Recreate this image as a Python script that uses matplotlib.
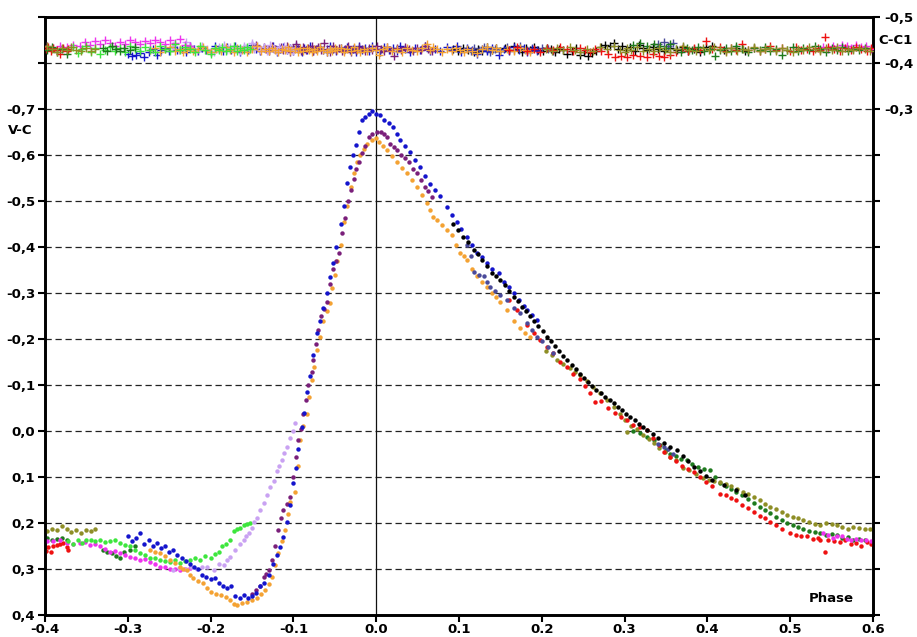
import numpy as np
import matplotlib
matplotlib.use("Agg")
import matplotlib.pyplot as plt

plt.rcParams['font.family'] = ['DejaVu Sans']

# ---------------- data: phase, V-C, C-C1 per observing run ----------------
blue_phase = [-0.300,-0.295,-0.290,-0.285,-0.280,-0.275,-0.270,-0.265,-0.260,-0.255,
              -0.250,-0.245,-0.240,-0.235,-0.230,-0.225,-0.220,-0.215,-0.210,-0.205,
              -0.200,-0.195,-0.190,-0.185,-0.180,-0.175,-0.170,-0.165,-0.160,-0.155,
              -0.150,-0.145,-0.140,-0.135,-0.130,-0.125,-0.120,-0.116,-0.112,-0.108,
              -0.104,-0.100,-0.097,-0.094,-0.090,-0.087,-0.083,-0.080,-0.076,-0.072,
              -0.068,-0.064,-0.060,-0.056,-0.052,-0.048,-0.043,-0.039,-0.035,-0.032,
              -0.028,-0.025,-0.021,-0.017,-0.013,-0.009,-0.005,0.000,0.005,0.010,
              0.015,0.020,0.025,0.029,0.035,0.041,0.047,0.053,0.059,0.065,
              0.071,0.077,0.085,0.091,0.097,0.103,0.110,0.116,0.122,0.128,
              0.134,0.140,0.148,0.154,0.160,0.166,0.172,0.178,0.182,0.188,
              0.194]
blue_vc = [0.228,0.240,0.232,0.222,0.245,0.236,0.250,0.244,0.255,0.250,
           0.262,0.258,0.270,0.276,0.282,0.290,0.296,0.300,0.312,0.318,
           0.322,0.320,0.330,0.336,0.342,0.338,0.358,0.362,0.356,0.362,
           0.358,0.352,0.338,0.330,0.312,0.290,0.270,0.252,0.230,0.197,
           0.160,0.114,0.080,0.040,-0.009,-0.040,-0.085,-0.120,-0.165,-0.213,
           -0.240,-0.267,-0.300,-0.335,-0.365,-0.400,-0.451,-0.490,-0.540,-0.575,
           -0.600,-0.622,-0.650,-0.676,-0.682,-0.690,-0.695,-0.690,-0.688,-0.676,
           -0.669,-0.660,-0.645,-0.633,-0.620,-0.607,-0.590,-0.575,-0.555,-0.538,
           -0.525,-0.511,-0.488,-0.470,-0.455,-0.440,-0.422,-0.405,-0.386,-0.378,
           -0.365,-0.352,-0.343,-0.325,-0.312,-0.300,-0.285,-0.272,-0.263,-0.252,
           -0.241]
blue_cc = [-0.420,-0.415,-0.418,-0.422,-0.414,-0.425,-0.430,-0.418,-0.428,-0.432,
           -0.426,-0.434,-0.428,-0.431,-0.424,-0.436,-0.430,-0.427,-0.433,-0.429,
           -0.425,-0.438,-0.431,-0.427,-0.434,-0.429,-0.436,-0.423,-0.432,-0.428,
           -0.440,-0.431,-0.426,-0.433,-0.429,-0.437,-0.424,-0.430,-0.435,-0.428,
           -0.432,-0.426,-0.438,-0.430,-0.424,-0.433,-0.429,-0.436,-0.427,-0.431,
           -0.434,-0.428,-0.425,-0.437,-0.430,-0.426,-0.433,-0.429,-0.435,-0.428,
           -0.431,-0.424,-0.436,-0.429,-0.433,-0.427,-0.438,-0.430,-0.425,-0.434,
           -0.428,-0.432,-0.426,-0.437,-0.430,-0.424,-0.433,-0.429,-0.436,-0.427,
           -0.431,-0.426,-0.434,-0.429,-0.438,-0.425,-0.432,-0.428,-0.419,-0.430,
           -0.427,-0.433,-0.418,-0.431,-0.426,-0.435,-0.429,-0.432,-0.424,-0.430,
           -0.428]

purple_phase = [-0.150,-0.145,-0.140,-0.136,-0.133,-0.130,-0.126,-0.122,-0.118,-0.115,
                -0.112,-0.108,-0.104,-0.101,-0.097,-0.094,-0.091,-0.088,-0.085,-0.082,
                -0.078,-0.076,-0.073,-0.070,-0.067,-0.063,-0.060,-0.056,-0.052,-0.048,
                -0.045,-0.041,-0.038,-0.034,-0.031,-0.027,-0.024,-0.021,-0.017,-0.013,
                -0.009,-0.005,0.001,0.006,0.010,0.013,0.017,0.021,0.025,0.030,
                0.035,0.040,0.045,0.049,0.054,0.059,0.063,0.067]
purple_vc = [0.355,0.345,0.338,0.317,0.310,0.302,0.280,0.250,0.215,0.190,
             0.172,0.158,0.143,0.100,0.056,0.020,-0.005,-0.038,-0.067,-0.100,
             -0.129,-0.154,-0.190,-0.220,-0.250,-0.265,-0.281,-0.320,-0.352,-0.370,
             -0.386,-0.430,-0.462,-0.500,-0.524,-0.548,-0.570,-0.585,-0.605,-0.620,
             -0.640,-0.645,-0.651,-0.650,-0.645,-0.640,-0.625,-0.618,-0.611,-0.600,
             -0.593,-0.585,-0.570,-0.560,-0.545,-0.531,-0.522,-0.509]
purple_cc = [-0.432,-0.440,-0.428,-0.435,-0.430,-0.426,-0.437,-0.431,-0.428,-0.434,
             -0.429,-0.436,-0.425,-0.433,-0.441,-0.430,-0.427,-0.435,-0.429,-0.432,
             -0.438,-0.426,-0.431,-0.434,-0.428,-0.443,-0.430,-0.425,-0.436,-0.429,
             -0.433,-0.427,-0.430,-0.437,-0.424,-0.432,-0.428,-0.435,-0.430,-0.426,
             -0.433,-0.429,-0.436,-0.431,-0.427,-0.434,-0.429,-0.416,-0.432,-0.428,
             -0.435,-0.430,-0.426,-0.433,-0.429,-0.436,-0.431,-0.427]

orange_phase = [-0.273,-0.267,-0.261,-0.255,-0.249,-0.243,-0.237,-0.233,-0.229,-0.225,
                -0.221,-0.215,-0.209,-0.204,-0.200,-0.194,-0.188,-0.182,-0.176,-0.172,
                -0.168,-0.162,-0.156,-0.150,-0.144,-0.139,-0.134,-0.130,-0.126,-0.122,
                -0.118,-0.114,-0.110,-0.107,-0.104,-0.098,-0.095,-0.092,-0.088,-0.084,
                -0.081,-0.078,-0.075,-0.072,-0.068,-0.064,-0.060,-0.056,-0.053,-0.050,
                -0.047,-0.043,-0.039,-0.035,-0.031,-0.027,-0.023,-0.019,-0.015,-0.011,
                -0.005,0.000,0.003,0.008,0.013,0.019,0.025,0.031,0.037,0.043,
                0.049,0.055,0.061,0.065,0.069,0.074,0.079,0.085,0.091,0.096,
                0.101,0.106,0.110,0.116,0.122,0.128,0.134,0.140,0.145,0.150,
                0.158,0.166,0.174,0.180,0.186]
orange_vc = [0.259,0.262,0.266,0.272,0.280,0.288,0.295,0.300,0.302,0.312,
             0.320,0.326,0.331,0.342,0.351,0.355,0.357,0.360,0.367,0.375,
             0.378,0.374,0.371,0.368,0.362,0.355,0.346,0.332,0.317,0.292,
             0.266,0.240,0.215,0.180,0.154,0.132,0.075,0.020,-0.010,-0.038,
             -0.075,-0.111,-0.140,-0.176,-0.205,-0.240,-0.260,-0.278,-0.310,-0.339,
             -0.370,-0.404,-0.455,-0.490,-0.530,-0.560,-0.585,-0.600,-0.612,-0.625,
             -0.633,-0.636,-0.629,-0.620,-0.611,-0.598,-0.585,-0.572,-0.560,-0.545,
             -0.531,-0.512,-0.495,-0.480,-0.466,-0.458,-0.448,-0.438,-0.426,-0.405,
             -0.386,-0.380,-0.372,-0.352,-0.336,-0.325,-0.314,-0.300,-0.292,-0.280,
             -0.262,-0.240,-0.223,-0.212,-0.205]
orange_cc = [-0.428,-0.432,-0.425,-0.430,-0.434,-0.427,-0.431,-0.424,-0.429,-0.433,
             -0.426,-0.430,-0.435,-0.428,-0.423,-0.431,-0.427,-0.434,-0.429,-0.425,
             -0.432,-0.428,-0.424,-0.430,-0.436,-0.427,-0.431,-0.426,-0.433,-0.429,
             -0.425,-0.431,-0.428,-0.434,-0.426,-0.430,-0.424,-0.432,-0.427,-0.433,
             -0.429,-0.425,-0.431,-0.427,-0.435,-0.428,-0.424,-0.430,-0.426,-0.432,
             -0.428,-0.433,-0.425,-0.430,-0.427,-0.434,-0.429,-0.424,-0.431,-0.426,
             -0.432,-0.428,-0.418,-0.430,-0.435,-0.427,-0.431,-0.425,-0.433,-0.429,
             -0.426,-0.432,-0.441,-0.428,-0.434,-0.430,-0.425,-0.431,-0.427,-0.433,
             -0.429,-0.425,-0.431,-0.427,-0.421,-0.430,-0.434,-0.428,-0.432,-0.426,
             -0.430,-0.427,-0.433,-0.429,-0.425]

lavender_phase = [-0.245,-0.238,-0.230,-0.224,-0.217,-0.210,-0.204,-0.196,-0.190,-0.184,
                  -0.180,-0.176,-0.170,-0.164,-0.160,-0.157,-0.154,-0.150,-0.147,-0.144,
                  -0.140,-0.136,-0.132,-0.128,-0.124,-0.120,-0.117,-0.114,-0.111,-0.108,
                  -0.104,-0.101,-0.098]
lavender_vc = [0.302,0.298,0.300,0.296,0.299,0.295,0.295,0.302,0.290,0.291,
               0.280,0.273,0.258,0.245,0.238,0.228,0.222,0.210,0.198,0.190,
               0.172,0.157,0.140,0.121,0.108,0.088,0.075,0.063,0.048,0.034,
               0.015,0.000,-0.017]
lavender_cc = [-0.436,-0.429,-0.446,-0.432,-0.427,-0.438,-0.431,-0.425,-0.434,-0.440,
               -0.428,-0.435,-0.430,-0.426,-0.437,-0.432,-0.428,-0.443,-0.431,-0.436,
               -0.429,-0.434,-0.427,-0.440,-0.431,-0.426,-0.435,-0.430,-0.438,-0.429,
               -0.433,-0.427,-0.431]

green_phase = [-0.372,-0.366,-0.360,-0.355,-0.350,-0.345,-0.340,-0.334,-0.328,-0.322,
               -0.316,-0.309,-0.303,-0.297,-0.291,-0.285,-0.279,-0.273,-0.267,-0.261,
               -0.255,-0.249,-0.243,-0.237,-0.231,-0.225,-0.219,-0.213,-0.207,-0.200,
               -0.195,-0.190,-0.186,-0.181,-0.176,-0.172,-0.168,-0.164,-0.160,-0.156,
               -0.152]
green_vc = [0.240,0.246,0.238,0.244,0.237,0.236,0.240,0.237,0.242,0.240,
            0.238,0.244,0.248,0.251,0.258,0.266,0.270,0.277,0.276,0.280,
            0.283,0.284,0.280,0.288,0.282,0.280,0.276,0.280,0.272,0.277,
            0.268,0.262,0.251,0.246,0.237,0.218,0.212,0.210,0.204,0.202,
            0.201]
green_cc = [-0.428,-0.434,-0.421,-0.430,-0.436,-0.425,-0.432,-0.419,-0.429,-0.435,
            -0.427,-0.433,-0.424,-0.438,-0.430,-0.426,-0.434,-0.429,-0.423,-0.437,
            -0.431,-0.426,-0.441,-0.428,-0.434,-0.430,-0.425,-0.436,-0.429,-0.420,
            -0.433,-0.428,-0.435,-0.426,-0.431,-0.438,-0.427,-0.432,-0.429,-0.434,
            -0.430]

dkgreen_phase = [-0.398,-0.392,-0.386,-0.380,-0.374,-0.330,-0.325,-0.319,-0.314,-0.309,
                 -0.304,-0.297,-0.291,
                 0.310,0.319,0.327,0.335,0.343,0.350,0.355,0.362,0.368,0.375,
                 0.382,0.389,0.396,0.403,0.409,0.415,0.422,0.429,0.435,0.442,
                 0.449,0.456,0.463,0.469,0.476,0.483,0.490,0.496,0.503,0.510,
                 0.516,0.523,0.530,0.536,0.543,0.550,0.556,0.563,0.570,0.576,
                 0.583,0.590]
dkgreen_vc = [0.232,0.236,0.234,0.233,0.238,0.258,0.262,0.266,0.272,0.277,
              0.262,0.258,0.251,
              0.000,0.005,0.012,0.020,0.030,0.042,0.049,0.054,0.060,0.063,
              0.072,0.078,0.082,0.085,0.100,0.114,0.120,0.126,0.132,0.140,
              0.148,0.157,0.165,0.172,0.179,0.186,0.194,0.201,0.205,0.208,
              0.212,0.218,0.220,0.222,0.226,0.224,0.226,0.232,0.230,0.237,
              0.234,0.238]
dkgreen_cc = [-0.428,-0.434,-0.425,-0.431,-0.420,-0.433,-0.427,-0.436,-0.430,-0.426,
              -0.432,-0.428,-0.435,
              -0.440,-0.444,-0.436,-0.442,-0.438,-0.433,-0.441,-0.430,-0.424,-0.432,
              -0.428,-0.435,-0.426,-0.431,-0.415,-0.429,-0.433,-0.427,-0.436,-0.430,
              -0.425,-0.432,-0.428,-0.434,-0.426,-0.431,-0.418,-0.429,-0.435,-0.427,
              -0.432,-0.428,-0.436,-0.430,-0.425,-0.433,-0.429,-0.434,-0.427,-0.431,
              -0.428,-0.433]

olive_phase = [-0.398,-0.392,-0.386,-0.380,-0.374,-0.368,-0.362,-0.356,-0.350,-0.344,
               -0.340,
               0.205,0.212,0.218,0.226,0.234,0.240,0.246,0.254,0.262,0.270,
               0.279,0.287,0.295,0.300,0.303,0.308,0.315,0.322,0.329,0.335,
               0.342,0.349,0.355,0.362,0.371,0.378,0.386,0.395,0.402,0.408,
               0.415,0.422,0.429,0.436,0.443,0.449,0.456,0.463,0.470,0.476,
               0.483,0.490,0.496,0.503,0.510,0.516,0.523,0.530,0.536,0.543,
               0.550,0.556,0.563,0.570,0.576,0.583,0.590,0.596]
olive_vc = [0.218,0.212,0.216,0.206,0.214,0.220,0.216,0.222,0.215,0.218,
            0.214,
            -0.175,-0.165,-0.154,-0.145,-0.136,-0.128,-0.122,-0.108,-0.096,-0.082,
            -0.067,-0.052,-0.038,-0.025,0.002,-0.010,-0.005,0.008,0.018,0.027,
            0.036,0.046,0.056,0.064,0.081,0.085,0.094,0.103,0.106,0.108,
            0.110,0.115,0.120,0.125,0.132,0.138,0.143,0.150,0.158,0.165,
            0.170,0.177,0.183,0.186,0.190,0.193,0.198,0.202,0.204,0.200,
            0.203,0.204,0.208,0.212,0.208,0.210,0.212,0.214]
olive_cc = [-0.438,-0.430,-0.425,-0.433,-0.428,-0.435,-0.429,-0.426,-0.432,-0.427,
            -0.431,
            -0.430,-0.426,-0.433,-0.428,-0.435,-0.429,-0.424,-0.431,-0.427,-0.434,
            -0.430,-0.436,-0.428,-0.425,-0.432,-0.429,-0.434,-0.427,-0.431,-0.426,
            -0.433,-0.428,-0.424,-0.431,-0.436,-0.429,-0.426,-0.432,-0.428,-0.435,
            -0.430,-0.425,-0.433,-0.427,-0.431,-0.428,-0.434,-0.426,-0.430,-0.432,
            -0.427,-0.433,-0.429,-0.425,-0.431,-0.428,-0.435,-0.430,-0.426,-0.432,
            -0.429,-0.434,-0.427,-0.431,-0.428,-0.433,-0.430,-0.426]

red_phase = [-0.399,-0.396,-0.393,-0.390,-0.386,-0.382,-0.378,-0.374,-0.372,
             0.160,0.170,0.182,0.190,0.198,0.206,0.214,0.222,0.230,0.238,
             0.246,0.252,0.258,0.264,0.272,0.280,0.288,0.296,0.303,0.310,
             0.318,0.327,0.334,0.341,0.348,0.355,0.362,0.369,0.377,0.384,
             0.391,0.398,0.405,0.415,0.422,0.428,0.435,0.442,0.449,0.456,
             0.463,0.469,0.476,0.483,0.490,0.500,0.507,0.513,0.520,0.527,
             0.533,0.536,0.542,0.546,0.553,0.560,0.566,0.573,0.580,0.586,
             0.593,0.598]
red_vc = [0.260,0.252,0.262,0.251,0.248,0.245,0.244,0.252,0.259,
          -0.285,-0.262,-0.230,-0.212,-0.198,-0.183,-0.170,-0.150,-0.140,-0.125,
          -0.112,-0.098,-0.082,-0.062,-0.066,-0.050,-0.040,-0.030,-0.024,-0.013,
          -0.008,-0.002,0.015,0.030,0.045,0.056,0.065,0.075,0.083,0.090,
          0.099,0.110,0.120,0.136,0.140,0.145,0.150,0.160,0.168,0.175,
          0.184,0.190,0.197,0.205,0.212,0.222,0.225,0.228,0.229,0.235,
          0.232,0.236,0.262,0.236,0.240,0.242,0.238,0.245,0.244,0.250,
          0.241,0.246]
red_cc = [-0.430,-0.435,-0.426,-0.432,-0.428,-0.420,-0.433,-0.427,-0.431,
          -0.429,-0.434,-0.427,-0.431,-0.425,-0.432,-0.428,-0.435,-0.430,-0.426,
          -0.433,-0.429,-0.424,-0.431,-0.427,-0.420,-0.414,-0.416,-0.412,-0.418,
          -0.415,-0.413,-0.419,-0.416,-0.414,-0.418,-0.424,-0.430,-0.427,-0.433,
          -0.429,-0.448,-0.430,-0.435,-0.427,-0.432,-0.428,-0.441,-0.429,-0.433,
          -0.427,-0.431,-0.436,-0.428,-0.432,-0.426,-0.434,-0.429,-0.431,-0.427,
          -0.433,-0.429,-0.456,-0.435,-0.430,-0.426,-0.432,-0.428,-0.434,-0.430,
          -0.427,-0.433]

magenta_phase = [-0.398,-0.390,-0.382,-0.374,-0.366,-0.358,-0.352,-0.346,-0.340,-0.334,
                 -0.328,-0.322,-0.316,-0.309,-0.303,-0.297,-0.291,-0.285,-0.279,-0.273,
                 -0.267,-0.261,-0.255,-0.249,-0.243,-0.237,-0.231,-0.225,
                 0.540,0.546,0.552,0.556,0.562,0.568,0.574,0.580,0.586,0.592,
                 0.598]
magenta_vc = [0.240,0.240,0.238,0.244,0.246,0.244,0.242,0.248,0.246,0.251,
              0.256,0.262,0.260,0.266,0.270,0.273,0.276,0.280,0.278,0.284,
              0.290,0.295,0.296,0.299,0.300,0.302,0.300,0.298,
              0.222,0.226,0.232,0.229,0.228,0.234,0.236,0.235,0.238,0.237,
              0.240]
magenta_cc = [-0.436,-0.432,-0.438,-0.434,-0.440,-0.436,-0.445,-0.440,-0.447,-0.442,
              -0.449,-0.444,-0.438,-0.446,-0.442,-0.450,-0.445,-0.441,-0.448,-0.443,
              -0.451,-0.446,-0.442,-0.449,-0.444,-0.452,-0.440,-0.436,
              -0.435,-0.431,-0.438,-0.433,-0.440,-0.436,-0.432,-0.439,-0.434,-0.437,
              -0.430]

black_phase = [0.093,0.099,0.105,0.111,0.118,0.123,0.128,0.134,0.140,0.145,
               0.150,0.155,0.160,0.166,0.171,0.176,0.181,0.186,0.191,0.196,
               0.201,0.206,0.211,0.216,0.221,0.226,0.231,0.236,0.241,0.246,
               0.251,0.256,0.261,0.266,0.271,0.276,0.282,0.287,0.292,0.297,
               0.302,0.307,0.312,0.317,0.322,0.327,0.334,0.340,0.348,0.355,
               0.363,0.370,0.377,0.384,0.391,0.398,0.405,0.420,0.435,0.445]
black_vc = [-0.451,-0.436,-0.422,-0.410,-0.393,-0.384,-0.372,-0.358,-0.343,-0.337,
            -0.328,-0.318,-0.305,-0.292,-0.283,-0.270,-0.260,-0.249,-0.240,-0.228,
            -0.218,-0.205,-0.196,-0.184,-0.173,-0.162,-0.154,-0.144,-0.134,-0.125,
            -0.116,-0.107,-0.098,-0.089,-0.082,-0.075,-0.067,-0.060,-0.052,-0.045,
            -0.038,-0.031,-0.024,-0.016,-0.009,-0.002,0.006,0.015,0.026,0.034,
            0.041,0.055,0.066,0.078,0.088,0.098,0.106,0.118,0.129,0.140]
black_cc = [-0.430,-0.426,-0.433,-0.428,-0.424,-0.431,-0.427,-0.435,-0.429,-0.432,
            -0.426,-0.433,-0.429,-0.436,-0.430,-0.425,-0.432,-0.428,-0.434,-0.429,
            -0.427,-0.433,-0.430,-0.424,-0.431,-0.428,-0.420,-0.427,-0.432,-0.418,
            -0.423,-0.416,-0.421,-0.427,-0.435,-0.440,-0.437,-0.443,-0.431,-0.438,
            -0.429,-0.435,-0.427,-0.440,-0.432,-0.428,-0.434,-0.430,-0.426,-0.433,
            -0.429,-0.435,-0.427,-0.431,-0.425,-0.434,-0.438,-0.429,-0.432,-0.427]

slate_phase = [0.110,0.114,0.118,0.124,0.130,0.134,0.138,0.144,0.150,0.158,
               0.166,0.174,0.182,0.188,0.194,0.200,0.207,0.214,0.340,0.347,
               0.352,0.358]
slate_vc = [-0.404,-0.380,-0.346,-0.340,-0.336,-0.325,-0.314,-0.305,-0.295,-0.285,
            -0.268,-0.256,-0.235,-0.220,-0.205,-0.195,-0.182,-0.169,0.028,0.034,
            0.040,0.050]
slate_cc = [-0.430,-0.426,-0.433,-0.428,-0.435,-0.429,-0.424,-0.431,-0.427,-0.434,
            -0.429,-0.436,-0.428,-0.432,-0.426,-0.433,-0.430,-0.427,-0.441,-0.445,
            -0.438,-0.443]

C_DKGREEN, C_OLIVE, C_RED, C_MAGENTA = '#1E7A1E', '#8E8E26', '#EE1111', '#EE33EE'
C_GREEN, C_LAV, C_ORANGE, C_PURPLE = '#3DE63D', '#C9A2F2', '#F4A233', '#7A1F7A'
C_BLUE, C_SLATE, C_BLACK = '#1414CC', '#4A4A9A', '#000000'

# V-C dots (drawing order)
vc_series = [
    (dkgreen_phase, dkgreen_vc, C_DKGREEN),
    (olive_phase, olive_vc, C_OLIVE),
    (red_phase, red_vc, C_RED),
    (magenta_phase, magenta_vc, C_MAGENTA),
    (green_phase, green_vc, C_GREEN),
    (lavender_phase, lavender_vc, C_LAV),
    (orange_phase, orange_vc, C_ORANGE),
    (purple_phase, purple_vc, C_PURPLE),
    (blue_phase, blue_vc, C_BLUE),
    (slate_phase, slate_vc, C_SLATE),
    (black_phase, black_vc, C_BLACK),
]
# C-C1 crosses (drawing order)
cc_series = [
    (black_phase, black_cc, C_BLACK),
    (slate_phase, slate_cc, C_SLATE),
    (blue_phase, blue_cc, C_BLUE),
    (purple_phase, purple_cc, C_PURPLE),
    (lavender_phase, lavender_cc, C_LAV),
    (orange_phase, orange_cc, C_ORANGE),
    (magenta_phase, magenta_cc, C_MAGENTA),
    (green_phase, green_cc, C_GREEN),
    (red_phase, red_cc, C_RED),
    (dkgreen_phase, dkgreen_cc, C_DKGREEN),
    (olive_phase, olive_cc, C_OLIVE),
]

x_ticks = [-0.4, -0.3, -0.2, -0.1, 0.0, 0.1, 0.2, 0.3, 0.4, 0.5, 0.6]
x_tick_labels = ['-0.4', '-0.3', '-0.2', '-0.1', '0.0', '0.1', '0.2', '0.3', '0.4', '0.5', '0.6']
y_ticks = [-0.9, -0.8, -0.7, -0.6, -0.5, -0.4, -0.3, -0.2, -0.1, 0.0, 0.1, 0.2, 0.3, 0.4]
y_tick_labels = ['', '', '-0,7', '-0,6', '-0,5', '-0,4', '-0,3', '-0,2', '-0,1',
                 '0,0', '0,1', '0,2', '0,3', '0,4']
grid_levels = [-0.8, -0.7, -0.6, -0.5, -0.4, -0.3, -0.2, -0.1, 0.0, 0.1, 0.2, 0.3]
y2_ticks = [-0.5, -0.4, -0.3, -0.2, -0.1, 0.0, 0.1, 0.2, 0.3, 0.4, 0.5, 0.6, 0.7, 0.8]
y2_tick_labels = ['-0,5', '-0,4', '-0,3'] + [''] * 11

# ---------------- figure ----------------
W, H = 917, 637
fig = plt.figure(figsize=(W / 100, H / 100), dpi=100)
ax = fig.add_axes([45 / W, 22 / H, 828 / W, 598 / H])
ax.set_xlim(-0.4, 0.6)
ax.set_ylim(0.4, -0.9)
ax2 = ax.twinx()
ax2.set_ylim(0.8, -0.5)

for lv in grid_levels:
    ax.axhline(lv, color='#222222', lw=0.9, ls=(0, (5, 3)), zorder=1)
ax.axvline(0.0, color='#111111', lw=0.9, zorder=1)

for ph, vc, col in vc_series:
    ax.plot(ph, vc, ls='none', marker='o', ms=3.2, mew=0, color=col, zorder=3)
for ph, cc, col in cc_series:
    ax2.plot(ph, cc, ls='none', marker='+', ms=6, mew=1.0, color=col, zorder=3)

fs = 9.5
ax.set_xticks(x_ticks)
ax.set_xticklabels(x_tick_labels, fontsize=fs, fontweight='bold')
ax.set_yticks(y_ticks)
ax.set_yticklabels(y_tick_labels, fontsize=fs, fontweight='bold')
ax2.set_yticks(y2_ticks)
ax2.set_yticklabels(y2_tick_labels, fontsize=fs, fontweight='bold')
ax.tick_params(axis='x', direction='out', length=5, width=1.5, pad=1)
ax.tick_params(axis='y', direction='out', length=5, width=1.5, pad=2)
ax2.tick_params(axis='y', direction='out', length=5, width=1.5, pad=3)

for a in (ax, ax2):
    for s in a.spines.values():
        s.set_linewidth(1.9)
        s.set_color('black')

fig.text(8 / W, 1 - 130 / H, 'V-C', ha='left', va='center', fontsize=fs, fontweight='bold')
fig.text(878 / W, 1 - 41 / H, 'C-C1', ha='left', va='center', fontsize=fs, fontweight='bold')
fig.text(831 / W, 1 - 598 / H, 'Phase', ha='center', va='center', fontsize=fs, fontweight='bold')

fig.savefig('out.png', dpi=100, facecolor='white')
